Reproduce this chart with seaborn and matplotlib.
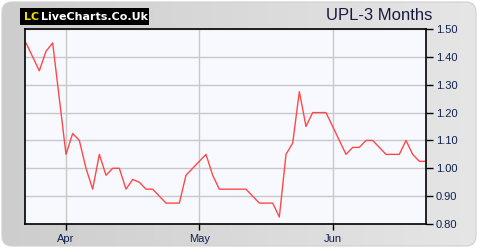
import numpy as np
import pandas as pd
import matplotlib
matplotlib.use("Agg")
import matplotlib.pyplot as plt
import seaborn as sns
from matplotlib.patches import FancyBboxPatch

title = "UPL-3 Months"
prices = [1.45, 1.40, 1.35, 1.42, 1.45, 1.25, 1.05, 1.125, 1.10, 1.00,
          0.925, 1.05, 0.975, 1.00, 1.00, 0.925, 0.96, 0.95, 0.925, 0.925,
          0.90, 0.875, 0.875, 0.875, 0.975, 1.00, 1.025, 1.05, 0.975, 0.925,
          0.925, 0.925, 0.925, 0.925, 0.90, 0.875, 0.875, 0.875, 0.825, 1.05,
          1.09, 1.275, 1.15, 1.20, 1.20, 1.20, 1.15, 1.10, 1.05, 1.075,
          1.075, 1.10, 1.10, 1.075, 1.05, 1.05, 1.05, 1.10, 1.05, 1.025,
          1.025]
month_labels = ["Apr", "May", "Jun"]
month_start_idx = [6, 26, 46]
y_ticks = [0.80, 0.90, 1.00, 1.10, 1.20, 1.30, 1.40, 1.50]

df = pd.DataFrame({"day": np.arange(len(prices)), "price": prices})

sns.set_theme(style="white")
plt.rcParams['font.family'] = ['Liberation Sans', 'DejaVu Sans']

W, H = 480, 250
fig = plt.figure(figsize=(W / 100, H / 100), dpi=100)
fig.patch.set_facecolor("white")

# background gradient panel
bg = fig.add_axes([0, 0, 1, 1], zorder=-10)
bg.set_xlim(0, W)
bg.set_ylim(H, 0)
bg.axis("off")
grad = np.linspace(0, 1, 256)[None, :]
img = bg.imshow(grad, extent=[0, W, H, 0], aspect="auto",
                cmap=matplotlib.colors.LinearSegmentedColormap.from_list(
                    "g", ["#cdcdcd", "#e6e6e6"]), zorder=0)
panel = FancyBboxPatch((2, 2), W - 6, H - 6,
                       boxstyle="round,pad=0,rounding_size=10",
                       facecolor="none", edgecolor="#d0d0d0", lw=0.8,
                       transform=bg.transData)
bg.add_patch(panel)
img.set_clip_path(panel)

# logo
bg.add_patch(plt.Rectangle((20, 8), 129, 17, facecolor="black", edgecolor="none", zorder=2))
bg.text(24, 16.8, "LC", color="#f0e000", fontsize=8, fontweight="bold",
        va="center", ha="left", zorder=3, family=["DejaVu Sans"])
bg.text(41, 16.8, "LiveCharts.Co.Uk", color="white", fontsize=8,
        fontweight="bold", va="center", ha="left", zorder=3,
        family=["DejaVu Sans"])

# plot area
left, right, top, bottom = 25, 426, 29, 224
ax = fig.add_axes([left / W, 1 - bottom / H, (right - left) / W, (bottom - top) / H])
ax.set_facecolor("#f8f9ff")

sns.lineplot(data=df, x="day", y="price", ax=ax, color="#ff4848", lw=1.0)

ax.set_xlim(-0.15, len(prices) - 1)
ax.set_ylim(0.80, 1.50)
ax.set_xticks(month_start_idx)
ax.set_xticklabels(month_labels)
ax.set_yticks(y_ticks)
ax.set_yticklabels([f"{v:.2f}" for v in y_ticks])
ax.yaxis.tick_right()
ax.grid(True, color="#c8c8c8", lw=1.0)
ax.set_axisbelow(True)
ax.set_xlabel("")
ax.set_ylabel("")
for s in ax.spines.values():
    s.set_color("black")
    s.set_linewidth(1.2)
ax.tick_params(axis="y", which="both", direction="out", length=5, width=1,
               color="black", labelsize=8, labelcolor="#102050", pad=2,
               right=True, left=False)
ax.tick_params(axis="x", direction="out", length=4, width=1, color="black",
               labelsize=8, labelcolor="#102050", pad=3, bottom=True)

fig.text(432 / W, 1 - 16 / H, title, ha="right", va="center",
         fontsize=12, color="#1a1a40")

fig.savefig("out.png", dpi=100, facecolor=fig.get_facecolor())
